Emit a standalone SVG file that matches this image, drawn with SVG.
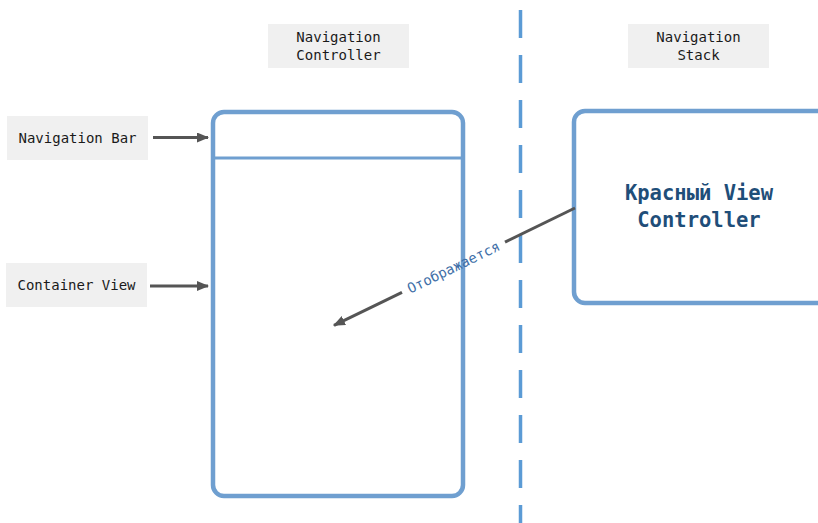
<svg xmlns="http://www.w3.org/2000/svg" width="818" height="523" viewBox="0 0 818 523">
<defs>
<style>
.lbl{fill:#f0f0f0}
.t{font-family:"DejaVu Sans Mono","Liberation Mono",monospace;font-size:14px;fill:#1a1a1a;text-anchor:middle}
.box{fill:#fff;stroke:#6f9fd0;stroke-width:4.5}
.arr{stroke:#555;stroke-width:3;fill:none}
.vc{font-family:"DejaVu Sans Mono","Liberation Mono",monospace;font-size:20.5px;font-weight:bold;fill:#1f4e79;text-anchor:middle}
</style>
<marker id="ah" markerWidth="12" markerHeight="10" refX="11" refY="5" orient="auto" markerUnits="userSpaceOnUse">
<path d="M0,0 L12,5 L0,10 Z" fill="#555"/>
</marker>
</defs>
<rect width="818" height="523" fill="#fff"/>
<line x1="520.5" y1="10" x2="520.5" y2="523" stroke="#5b9bd5" stroke-width="3.5" stroke-dasharray="28 17"/>
<g id="nav-controller-label">
<rect class="lbl" x="268" y="24" width="141" height="44"/>
<text class="t" x="338.5" y="41.5">Navigation</text>
<text class="t" x="338.5" y="59.5">Controller</text>
</g>
<g id="nav-stack-label">
<rect class="lbl" x="628" y="24" width="141" height="44"/>
<text class="t" x="698.5" y="41.5">Navigation</text>
<text class="t" x="698.5" y="59.5">Stack</text>
</g>
<g id="nav-bar-label">
<rect class="lbl" x="7" y="116" width="141" height="44"/>
<text class="t" x="77.5" y="143">Navigation Bar</text>
</g>
<g id="container-view-label">
<rect class="lbl" x="6" y="263" width="141" height="44"/>
<text class="t" x="76.5" y="290">Container View</text>
</g>
<g id="navigation-controller">
<rect class="box" x="213" y="112" width="250" height="384" rx="11"/>
<line x1="213" y1="158" x2="463" y2="158" stroke="#6f9fd0" stroke-width="3"/>
</g>
<g id="red-view-controller">
<rect class="box" x="574" y="111" width="260" height="192" rx="11"/>
<text class="vc" x="699" y="200">Красный View</text>
<text class="vc" x="699" y="227">Controller</text>
</g>
<g id="connectors">
<line class="arr" x1="153" y1="137.5" x2="208" y2="137.5" marker-end="url(#ah)"/>
<line class="arr" x1="150" y1="286" x2="208" y2="286" marker-end="url(#ah)"/>
<line class="arr" x1="575" y1="208" x2="505" y2="242.1"/>
<line class="arr" x1="402" y1="292.3" x2="334" y2="325.4" marker-end="url(#ah)"/>
<text x="453.5" y="267.2" transform="rotate(-26 453.5 267.2)" font-family="DejaVu Sans Mono,Liberation Mono,monospace" font-size="14" fill="#3f70a8" text-anchor="middle" dominant-baseline="central">Отображается</text>
</g>
</svg>
